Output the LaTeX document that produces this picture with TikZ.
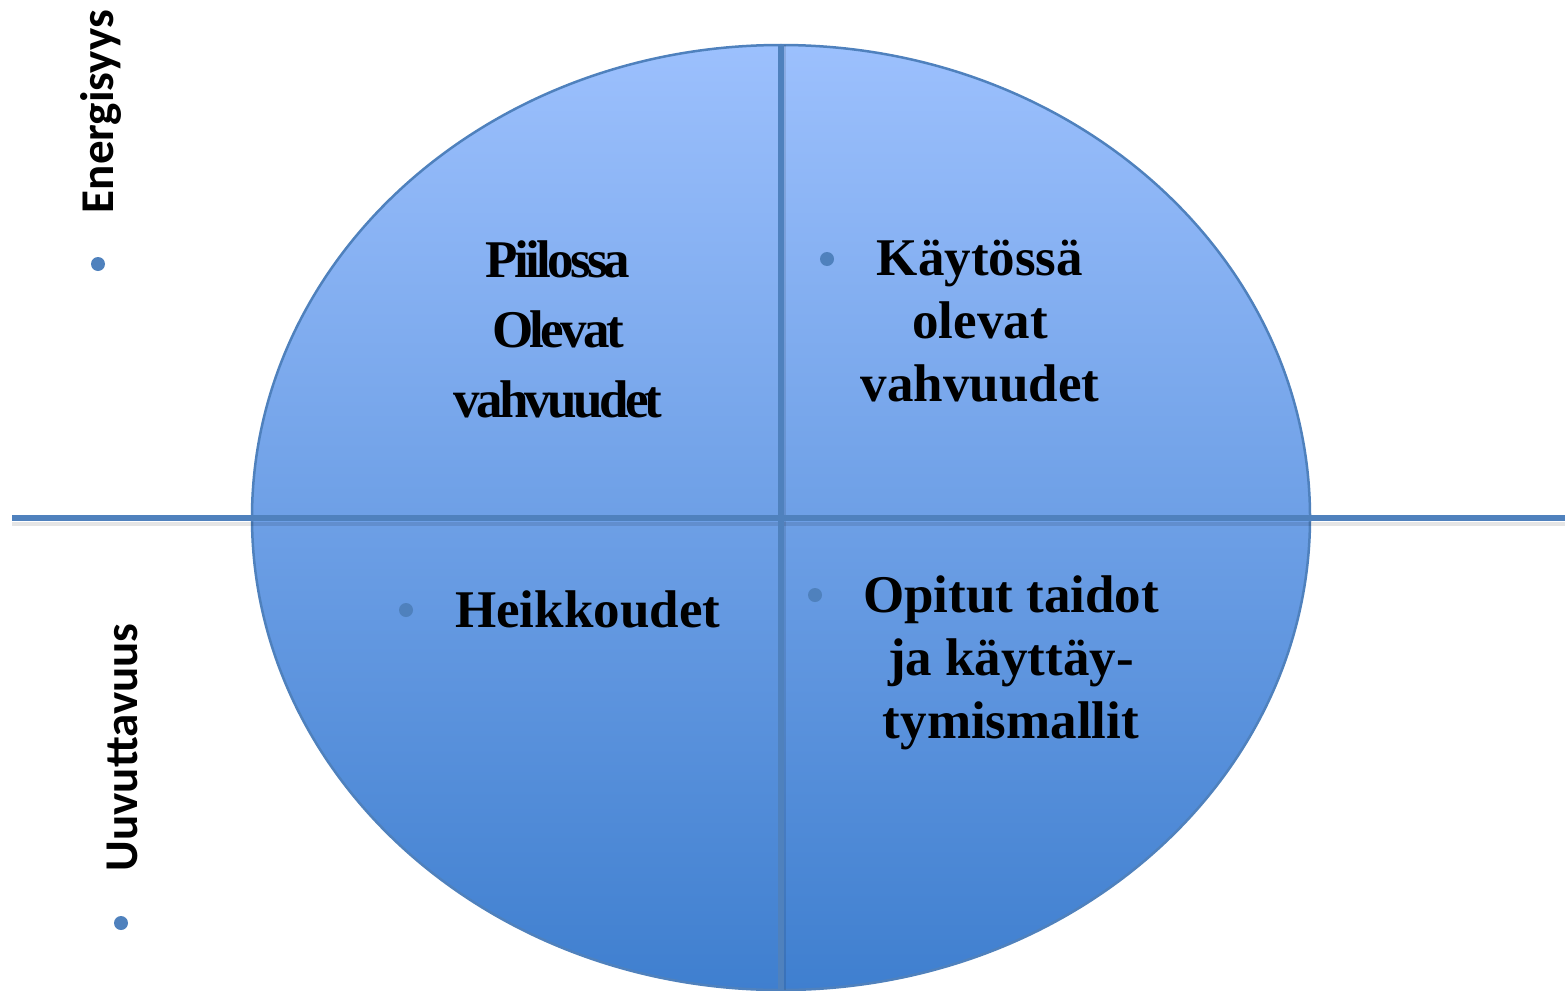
\documentclass[tikz,border=0pt]{standalone}
\usepackage{fontspec}
\setmainfont{Liberation Serif}
\newfontfamily\condserif[LetterSpace=-7]{Liberation Serif Bold}
\newfontfamily\calib{Carlito}
\definecolor{topblue}{HTML}{9CC0FD}
\definecolor{botblue}{HTML}{3F7FCF}
\definecolor{lineblue}{HTML}{4F81BD}
\definecolor{bulletblue}{HTML}{4F81BD}
\begin{document}
\begin{tikzpicture}[x=1pt,y=-1pt,
  bigtext/.style={font=\fontsize{53}{63}\selectfont\bfseries, align=center, inner sep=0, anchor=base},
  condtext/.style={font=\fontsize{53}{70}\selectfont\condserif, align=center, inner sep=0, anchor=base},
  axistext/.style={font=\fontsize{47}{56}\selectfont\calib\bfseries, rotate=90, inner sep=0, anchor=base},
  bulletdot/.style={circle, fill=bulletblue, minimum size=14pt, inner sep=0},
  axisline/.style={draw=lineblue, line width=6pt},
  shadowline/.style={draw=black, opacity=0.10, line width=4pt}]
\useasboundingbox (0,0) rectangle (1565,990);
% ellipse
\shade[top color=topblue, bottom color=botblue] (781,517.5) ellipse [x radius=529, y radius=472.5];
\draw[lineblue, line width=2.5pt] (781,517.5) ellipse [x radius=529, y radius=472.5];
% coordinates for axes
\coordinate (hl) at (12,518);
\coordinate (hr) at (1565,518);
\coordinate (vt) at (781,45);
\coordinate (vb) at (781,990);
\coordinate (hls) at (12,524);
\coordinate (hrs) at (1565,524);
\coordinate (vts) at (784,45);
\coordinate (vbs) at (784,990);
\draw[shadowline] (hls) -- (hrs);
\draw[shadowline] (vts) -- (vbs);
\draw[axisline] (hl) -- (hr);
\draw[axisline] (vt) -- (vb);
% quadrant texts
\node[condtext] (piilossa) at (558,417) {Piilossa\\Olevat\\vahvuudet};
\node[bulletdot] (b1) at (827,259) {};
\node[bigtext] (kaytossa) at (980,401) {Käytössä\\olevat\\vahvuudet};
\node[bulletdot] (b2) at (406,610) {};
\node[bigtext, anchor=base west] (heikkoudet) at (455,627) {Heikkoudet};
\node[bulletdot] (b3) at (815,595) {};
\node[bigtext] (opitut) at (1011,738) {Opitut taidot\\ja käyttäy-\\tymismallit};
% axis labels
\node[axistext] (energisyys) at (113,111.5) {Energisyys};
\node[bulletdot] (b4) at (98,264) {};
\node[axistext] (uuvuttavuus) at (137,747.5) {Uuvuttavuus};
\node[bulletdot] (b5) at (121,923) {};
\end{tikzpicture}
\end{document}
